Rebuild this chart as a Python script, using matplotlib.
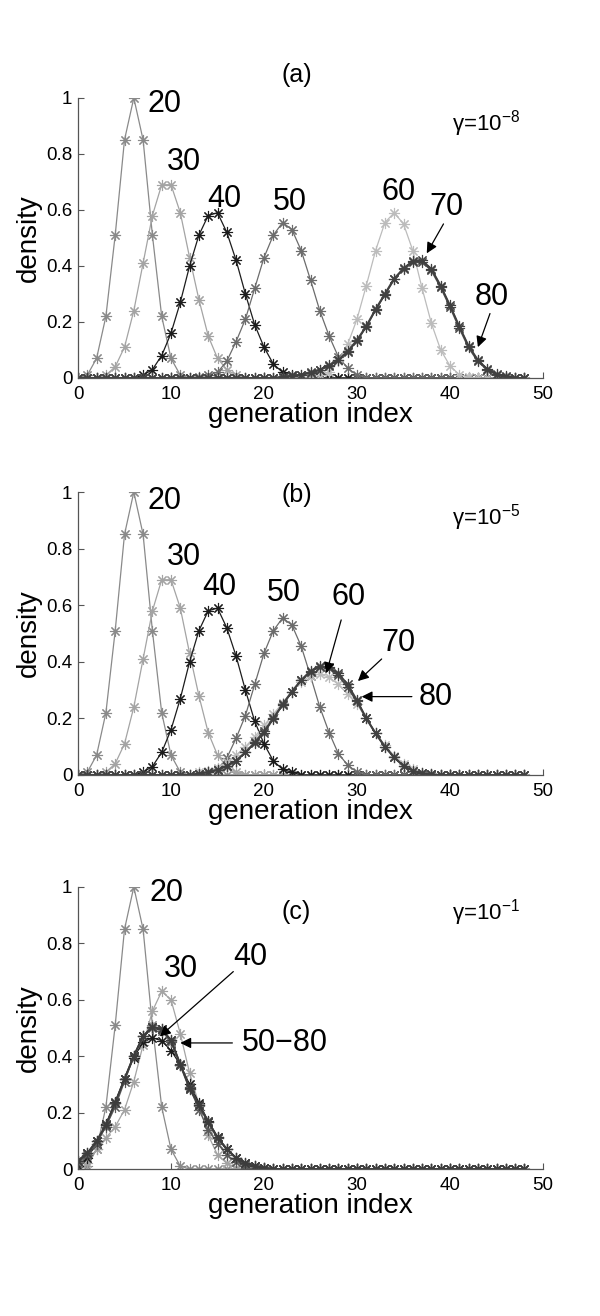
import matplotlib
matplotlib.use("Agg")
import matplotlib.pyplot as plt
import numpy as np

plt.rcParams['font.family'] = ['Liberation Sans', 'DejaVu Sans']
plt.rcParams['mathtext.fontset'] = 'custom'
plt.rcParams['mathtext.rm'] = 'Liberation Sans'
plt.rcParams['mathtext.default'] = 'regular'

N = 49  # generation index 0..48
gen_index = list(range(N))

def pad(start, vals):
    out = [0.0] * N
    for i, v in enumerate(vals):
        out[start + i] = v
    return out

# ---------------- data (start index, nonzero values) ----------------
d20 = (0, [0.0, 0.01, 0.07, 0.22, 0.51, 0.85, 1.0, 0.85, 0.51, 0.22, 0.07, 0.01])
d30 = (2, [0.0, 0.01, 0.04, 0.11, 0.24, 0.41, 0.58, 0.69, 0.69, 0.59, 0.43, 0.28, 0.15, 0.07, 0.03, 0.01])
d40 = (6, [0.0, 0.01, 0.03, 0.08, 0.16, 0.27, 0.40, 0.51, 0.58, 0.59, 0.52, 0.42, 0.30, 0.19, 0.11, 0.05, 0.02, 0.01])
d50 = (13, [0.005, 0.01, 0.02, 0.06, 0.13, 0.21, 0.32, 0.43, 0.51, 0.555, 0.53, 0.455, 0.35, 0.24, 0.15, 0.075, 0.035, 0.01])

a60 = (26, [0.01, 0.02, 0.06, 0.12, 0.21, 0.33, 0.455, 0.555, 0.59, 0.55, 0.455, 0.32, 0.195, 0.10, 0.043, 0.012, 0.003])
a70 = (22, [0.004, 0.008, 0.012, 0.02, 0.03, 0.045, 0.065, 0.095, 0.135, 0.185, 0.245, 0.30, 0.355, 0.39, 0.415, 0.415,
            0.385, 0.325, 0.255, 0.18, 0.11, 0.06, 0.03, 0.012, 0.005])
a80 = (22, [0.003, 0.007, 0.011, 0.018, 0.028, 0.043, 0.063, 0.093, 0.133, 0.183, 0.243, 0.298, 0.352, 0.392, 0.418, 0.42,
            0.39, 0.33, 0.26, 0.185, 0.115, 0.065, 0.032, 0.014, 0.006])

b60 = (13, [0.01, 0.015, 0.025, 0.045, 0.07, 0.10, 0.135, 0.175, 0.215, 0.255, 0.295, 0.33, 0.35, 0.357, 0.345, 0.32,
            0.285, 0.25, 0.20, 0.15, 0.105, 0.068, 0.04, 0.02, 0.008, 0.003])
b70 = (13, [0.005, 0.01, 0.018, 0.032, 0.05, 0.08, 0.115, 0.155, 0.20, 0.25, 0.295, 0.335, 0.368, 0.385, 0.378, 0.352,
            0.31, 0.26, 0.20, 0.147, 0.10, 0.062, 0.032, 0.015, 0.006, 0.002])
b80 = (13, [0.005, 0.01, 0.018, 0.032, 0.05, 0.08, 0.112, 0.15, 0.198, 0.248, 0.293, 0.335, 0.365, 0.383, 0.38, 0.36,
            0.32, 0.265, 0.20, 0.147, 0.10, 0.062, 0.032, 0.015, 0.006, 0.002])

c30 = (0, [0.0, 0.02, 0.07, 0.11, 0.15, 0.21, 0.31, 0.44, 0.56, 0.63, 0.60, 0.48, 0.34, 0.23, 0.12, 0.05, 0.02, 0.005])
c40 = (0, [0.01, 0.04, 0.09, 0.16, 0.235, 0.32, 0.395, 0.45, 0.465, 0.455, 0.42, 0.37, 0.30, 0.235, 0.17, 0.115, 0.07,
           0.04, 0.02, 0.01, 0.005])
c50 = (0, [0.02, 0.05, 0.09, 0.15, 0.22, 0.31, 0.40, 0.47, 0.50, 0.49, 0.45, 0.37, 0.29, 0.21, 0.14, 0.09, 0.05, 0.025,
           0.012, 0.005, 0.002])
c60 = (0, [0.025, 0.055, 0.10, 0.155, 0.235, 0.32, 0.40, 0.47, 0.505, 0.495, 0.455, 0.37, 0.285, 0.225, 0.165, 0.11,
           0.07, 0.038, 0.018, 0.01, 0.004])
c70 = (0, [0.03, 0.055, 0.10, 0.155, 0.235, 0.318, 0.40, 0.47, 0.504, 0.495, 0.457, 0.37, 0.285, 0.226, 0.167, 0.11,
           0.07, 0.038, 0.018, 0.01, 0.004])
c80 = (0, [0.03, 0.056, 0.098, 0.156, 0.236, 0.32, 0.402, 0.472, 0.505, 0.496, 0.456, 0.372, 0.287, 0.228, 0.168,
           0.112, 0.072, 0.04, 0.02, 0.01, 0.004])

labels = ['20', '30', '40', '50', '60', '70', '80']
panel_a = [d20, d30, d40, d50, a60, a70, a80]
panel_b = [d20, d30, d40, d50, b60, b70, b80]
panel_c = [d20, c30, c40, c50, c60, c70, c80]

gammas = ['γ=10$^{-8}$', 'γ=10$^{-5}$', 'γ=10$^{-1}$']
titles = ['(a)', '(b)', '(c)']

# styles per curve label
colors = {'20': '#8a8a8a', '30': '#a4a4a4', '40': '#1c1c1c', '50': '#6c6c6c',
          '60': '#bcbcbc', '70': '#4a4a4a', '80': '#404040'}
widths = {'20': 0.9, '30': 0.9, '40': 0.9, '50': 0.9, '60': 0.9, '70': 1.5, '80': 1.2}
colors_c = dict(colors)
colors_c.update({'50': '#5a5a5a', '60': '#7a7a7a', '70': '#4a4a4a', '80': '#3c3c3c'})

asterisk = (8, 2, 0)

fig = plt.figure(figsize=(6.0, 13.16), dpi=100)
axes_rects = [[0.13, 0.7128, 0.775, 0.2128],
              [0.13, 0.4111, 0.775, 0.2150],
              [0.13, 0.1117, 0.775, 0.2143]]

panels = [panel_a, panel_b, panel_c]
for k, (rect, series) in enumerate(zip(axes_rects, panels)):
    ax = fig.add_axes(rect)
    cols = colors_c if k == 2 else colors
    for lab, (st, vals) in zip(labels, series):
        y = pad(st, vals)
        ax.plot(gen_index, y, color=cols[lab], lw=widths[lab], marker=asterisk,
                markersize=8, markeredgewidth=0.8, markeredgecolor=cols[lab])
    ax.set_xlim(0, 50)
    ax.set_ylim(0, 1)
    ax.set_xticks([0, 10, 20, 30, 40, 50])
    ax.set_yticks([0, 0.2, 0.4, 0.6, 0.8, 1])
    ax.set_yticklabels(['0', '0.2', '0.4', '0.6', '0.8', '1'])
    for s in ['top', 'right']:
        ax.spines[s].set_visible(False)
    for s in ['left', 'bottom']:
        ax.spines[s].set_color('#555555')
        ax.spines[s].set_linewidth(0.9)
    ax.tick_params(direction='in', length=4, width=0.8, colors='#555555',
                   labelcolor='black', labelsize=13.5, pad=4)
    ax.tick_params(axis='x', pad=6)
    ax.set_xlabel('generation index', fontsize=20, labelpad=-1)
    ax.set_ylabel('density', fontsize=20, labelpad=3)
    ax.patch.set_alpha(0)
    ax.text(40.2, 0.91, gammas[k], fontsize=16, va='center', ha='left')

    ty = [1.082, 0.99, 0.91][k]
    ax.text(0.47, ty, titles[k], transform=ax.transAxes, fontsize=18,
            ha='center', va='center')

    lbl_kw = dict(fontsize=22, va='center', ha='left')
    arr = dict(arrowstyle='-|>', color='black', lw=0.9, mutation_scale=16,
               shrinkA=0, shrinkB=0)
    if k == 0:
        ax.text(7.5, 0.98, '20', **lbl_kw)
        ax.text(9.5, 0.77, '30', **lbl_kw)
        ax.text(13.9, 0.64, '40', **lbl_kw)
        ax.text(20.9, 0.63, '50', **lbl_kw)
        ax.text(32.6, 0.665, '60', **lbl_kw)
        ax.text(37.8, 0.61, '70', **lbl_kw)
        ax.annotate('', xy=(37.5, 0.445), xytext=(39.3, 0.55), arrowprops=arr)
        ax.text(42.7, 0.29, '80', **lbl_kw)
        ax.annotate('', xy=(43.0, 0.11), xytext=(44.3, 0.23), arrowprops=arr)
    elif k == 1:
        ax.text(7.5, 0.97, '20', **lbl_kw)
        ax.text(9.5, 0.77, '30', **lbl_kw)
        ax.text(13.4, 0.665, '40', **lbl_kw)
        ax.text(20.3, 0.643, '50', **lbl_kw)
        ax.text(27.3, 0.63, '60', **lbl_kw)
        ax.annotate('', xy=(26.7, 0.36), xytext=(28.3, 0.548), arrowprops=arr)
        ax.text(32.65, 0.466, '70', **lbl_kw)
        ax.annotate('', xy=(30.1, 0.332), xytext=(32.65, 0.41), arrowprops=arr)
        ax.text(36.6, 0.277, '80', **lbl_kw)
        ax.annotate('', xy=(30.5, 0.277), xytext=(35.9, 0.277), arrowprops=arr)
    else:
        ax.text(7.7, 0.98, '20', **lbl_kw)
        ax.text(9.25, 0.71, '30', **lbl_kw)
        ax.text(16.7, 0.75, '40', **lbl_kw)
        ax.annotate('', xy=(8.8, 0.47), xytext=(16.7, 0.70), arrowprops=arr)
        ax.text(17.6, 0.447, '50\u221280', **lbl_kw)
        ax.annotate('', xy=(11.0, 0.447), xytext=(16.6, 0.447), arrowprops=arr)

fig.savefig('out.png', dpi=100, facecolor='white')
